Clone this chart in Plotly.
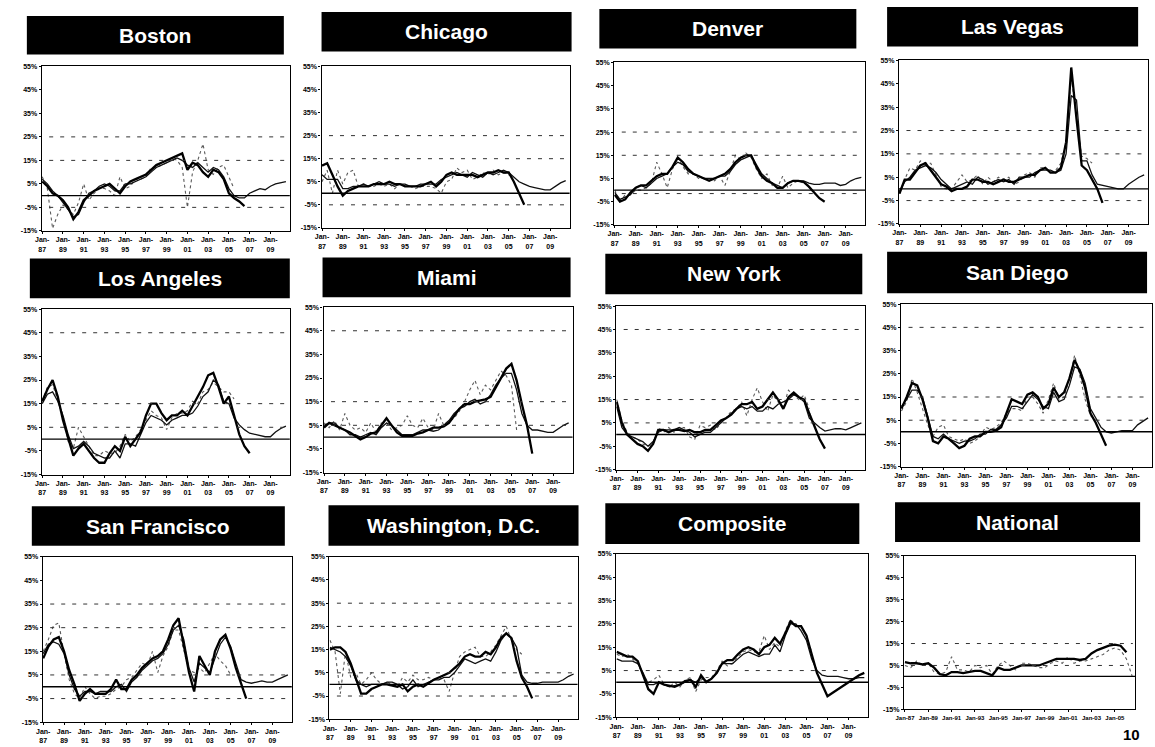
import plotly.graph_objects as go

# ---------------- data (year-over-year % change, semiannual points from Jan-87) ----------------
DATES = [f"{y}-{m:02d}-01" for y in range(1987, 2011) for m in (1, 7)]

CITIES = ["Boston", "Chicago", "Denver", "Las Vegas",
          "Los Angeles", "Miami", "New York", "San Diego",
          "San Francisco", "Washington, D.C.", "Composite", "National"]

# thick solid series
boston_a = [6, 4, 1, 0, -2, -5, -10, -7, -2, 0, 2, 3, 4, 5, 3, 1, 4, 6, 7, 8,
            9, 11, 13, 14, 15, 16, 17, 18, 11, 14, 13, 10, 8, 11, 10, 7, 1, -1, -2.5, -4.5]
chicago_a = [12, 13, 8, 3, -1, 1, 2, 3, 3, 3, 4, 4, 4, 5, 4, 4, 3, 3, 3, 3,
             4, 5, 3, 5, 8, 9, 8, 8, 8, 8, 7, 8, 9, 9, 10, 9, 9, 5, 0, -5]
denver_a = [-2, -5, -4, -1, 1, 2, 2, 4, 6, 7, 7, 10, 14, 12, 9, 7, 6, 5, 4, 5,
            6, 7, 9, 12, 14, 15, 15, 10, 6, 4, 3, 1, 1, 3, 4, 4, 3.5, 1.5, -1, -3.5, -5]
lasvegas_a = [-2, 4, 4, 7, 10, 11, 8, 5, 2, 1, -1, 0, 0, 1, 4, 4, 3, 3, 2, 3,
              4, 3, 3, 4, 5, 6, 6, 8, 9, 7, 7, 9, 20, 52, 30, 10, 8, 4, 0, -6]
losangeles_a = [16, 21, 25, 18, 8, 0, -7, -4, -2, -5, -8, -10, -10, -6, -3, -5, 1, -3, 0, 3,
                10, 15, 15, 11, 8, 10, 10, 12, 10, 14, 18, 22, 27, 28, 22, 15, 18, 10, 2, -3, -6]
miami_a = [4, 6, 5, 4, 3, 2, 0.5, -1, 0, 1.5, 2, 5, 8, 5, 2, 0.5, 0.5, 0.5, 1.5, 2,
           3, 4, 4, 4.5, 6, 9, 12, 14, 14, 15, 15.5, 16, 17, 21, 25, 29, 31, 24, 14, 5, -7]
newyork_a = [14, 5, 0, -2, -4, -5, -7, -4, 2, 2, 1, 2, 2, 1.5, 2, 1, 1, 2, 2, 4,
             6, 7, 8.5, 11, 13, 13, 14, 11, 12, 15, 18, 15, 11, 16, 18, 16, 15, 9, 3, -2, -6]
sandiego_a = [10, 15, 21, 20, 14, 6, -4, -5, -2, -3, -5, -7, -6, -3, -2, -2, 0, 0, 0.5, 2,
              8, 14, 13, 12, 16, 17, 15, 10, 12, 19, 15, 17, 23, 31, 26, 19, 8, 4, -1, -6]
sanfrancisco_a = [12, 17, 20, 21, 15, 7, 1, -6, -3, -1, -3, -3, -3, -1, 3, -1, -1, 3, 5, 8,
                  10, 12, 13, 15, 20, 26, 29, 18, 6, -2, 13, 9, 5, 15, 20, 22, 16, 8, 1, -5]
washington_a = [15, 16, 16, 14, 9, 3, -4, -4, -2, -1, 0, 0, -0.5, -1, 0, -3, -1, 0, -1, 0.5,
                2, 3, 4, 5, 7, 9, 12, 13, 12, 12, 14, 13, 16, 20, 22, 20, 10, 3, -1, -6]
composite_a = [13, 12, 11, 11, 9, 3, -3, -5, 0, -1, -1.5, -2, -1, 0.5, 1, -2, 3, 0, 1.5, 4,
               8, 9.5, 9.5, 12, 14, 15, 14, 12, 15, 16, 19, 16.5, 21, 26, 24, 24, 20, 12, 4, -1,
               -6, -4.5, -3, -1.5, 0, 1.5, 3, 4]
national_a = [6.5, 6, 6, 5.5, 6, 4, 1, 0.5, 2, 2, 1.5, 2, 2.5, 2.5, 1.5, 0.5, 4, 3, 3, 4,
              5, 5, 5, 5, 6, 7, 8, 8, 8, 8, 7.5, 8, 10.5, 12, 13, 14, 14.5, 14, 11]

# thin solid series (continues to 2010)
boston_b = [7, 5, 2, 0, -3, -6, -9, -8, -3, 1, 2, 4, 5, 4, 2, 2, 5, 5, 6, 7,
            8, 10, 12, 13, 14, 15, 16, 15, 13, 12, 14, 12, 10, 12, 11, 8, 3, 0, -1, -1,
            1, 2, 3, 2.5, 4, 5, 5.5, 6]
chicago_b = [8, 6, 6, 6, 2, 2, 3, 3, 4, 3, 4, 5, 4, 4, 3, 4, 4, 3, 3, 4,
             4, 4, 4, 6, 7, 8, 9, 8, 7, 9, 8, 7, 9, 8, 9, 10, 9, 7, 5, 4,
             3, 2.5, 2, 1.5, 1.5, 3, 4.5, 5.5]
denver_b = [-1, -4, -3, -2, 1, 2, 1, 3, 5, 6, 7, 10, 12, 11, 8, 7, 6, 5, 5, 5,
            6, 6, 8, 11, 13, 14, 15, 11, 7, 5, 3, 2, 1, 3, 4, 4, 4, 3, 2.5, 2.5,
            3, 3, 3, 2, 2.5, 4, 5, 5.5]
lasvegas_b = [-1, 3, 5, 8, 9, 10, 9, 7, 4, 2, 0, 1, 2, 3, 2, 5, 4, 2, 3, 4,
              3, 4, 2, 5, 5, 5, 7, 8, 8, 8, 7, 8, 15, 40, 38, 12, 12, 6, 2, 1.5,
              1, 0.5, 0, 0, 2, 3.5, 5, 6]
losangeles_b = [15, 19, 20, 16, 10, 2, -4, -3, -1, -3, -6, -7, -8, -8, -5, -8, -2, -2, -3, 2,
                7, 10, 9, 8, 6, 8, 9, 10, 10, 11, 14, 18, 20, 25, 23, 16, 15, 9, 6, 4,
                2.5, 2, 1.5, 1, 1, 3, 4.5, 5.5]
miami_b = [5, 6, 6, 4, 3, 1, 1, 0, 1, 2, 1, 4, 6, 5, 3, 1, 1, 1, 2, 3,
           3, 2.5, 3, 5, 7, 10, 12, 13, 15, 16, 14, 15, 18, 22, 25, 27, 27, 20, 10, 5,
           3, 3, 2.5, 2, 2, 3.5, 5, 6]
newyork_b = [12, 3, 0, -1, -2, -3, -5, -3, 1, 2, 2, 2, 3, 2, 1, -1, 0, 1, 1, 3,
             5, 7, 9, 11, 12, 11, 12, 10, 10, 12, 11, 13, 14, 15, 17, 16, 14, 7, 5, 3,
             1.5, 2, 2.5, 2.5, 2, 3, 4, 5]
sandiego_b = [11, 14, 18, 18, 15, 7, -2, -3, -1, -3, -4, -5, -4, -4, -3, -1, -1, 1, 1, 3,
              6, 11, 11, 10, 13, 16, 14, 11, 10, 17, 13, 14, 20, 28, 27, 21, 10, 6, 2, 0,
              -0.5, 0, 0.5, 0.5, 0.5, 3, 4.5, 6]
sanfrancisco_b = [14, 18, 19, 18, 14, 5, -1, -4, -2, -2, -3, -2, -2, -2, 0, 1, -2, 2, 4, 7,
                  9, 11, 12, 14, 18, 24, 26, 20, 8, 2, 10, 8, 6, 12, 18, 21, 17, 10, 3, 2,
                  1.5, 2, 2.5, 2, 2, 3, 4, 5]
washington_b = [16, 15, 14, 12, 8, 2, 0, -1, 0, 0, 0, 1, 1, 0, -2, -1, 2, -1, 0, 1,
                2, 2, 3, 3, 5, 8, 11, 10, 9, 10, 11, 10, 14, 19, 22, 20, 16, 4, 1, 0.5,
                0.5, 1, 1, 1, 1, 2, 3.5, 4.5]
composite_b = [10, 9, 9, 9, 8, 4, -1, -1, 0, -1, -2, -1.5, -1, 0, 1, 0, 2, 0.5, 1.5, 4,
               8, 8, 8, 10, 12, 13, 12, 11, 12, 12, 16, 13, 20, 25, 25, 22, 18, 10, 5, 3,
               2.5, 2.5, 2.5, 2, 1.5, 1.5, 2, 2]
national_b = []

# dotted series
boston_c = [8, 3, -14, -8, -4, -6, -8, -3, 5, -2, 1, 3, 3, 2, 0, 8, 3, 4, 7, 7,
            8, 12, 12, 13, 14, 16, 15, 12, -5, 10, 15, 22, 11, 9, 12, 13, 8, 3]
chicago_c = [5, 10, 0, 10, 4, 9, 10, 3, 4, 3, 3, 4, 3, 4, 2, 4, 3, 3, 2, 3,
             3, 3, 2, 0, 5, 6, 11, 9, 10, 6, 7, 9, 8, 10, 8, 9, 8, 7]
denver_c = [0, -5, -2, -2, 0, 0, 1, 3, 12, 7, 1, 9, 14, 10, 7, 7, 5, 5, 5, 4,
            6, 2, 8, 15, 13, 16, 14, 9, 5, 7, 2, 1, 6, 1, 3, 4, 3, 2]
lasvegas_c = [-2, 4, 9, 8, 12, 11, 11, 6, 1, 0, 0, 3, 6, 3, 4, 6, 2, 5, 3, 5,
              4, 5, 2, 3, 6, 7, 5, 9, 9, 7, 8, 11, 20, 48, 30, 14, 13, 11]
losangeles_c = [16, 22, 23, 17, 10, -1, -4, 5, 1, -3, -7, -7, -5, -6, -6, -3, 2, -1, 1, 4,
                8, 12, 10, 9, 4, 9, 11, 11, 12, 16, 15, 20, 21, 24, 22, 20, 20, 17]
miami_c = [6, 4, 7, 3, 10, 5, 3, 4, 2, 6, 2, 6, 6, 3, 4, 5, 9, 5, 4, 8,
           4, 3, 10, 5, 7, 8, 11, 15, 20, 24, 18, 22, 20, 24, 28, 26, 22, 3]
newyork_c = [15, 6, 1, -1, -2, -4, -5, -4, 3, 1, 3, 1, 3, 3, -1, -2, 4, 3, 4, 2,
             5, 7, 10, 11, 14, 8, 15, 20, 14, 10, 17, 14, 12, 19, 17, 15, 17, 11]
sandiego_c = [9, 13, 23, 17, 10, 3, -2, 2, 3, -2, -3, -4, -3, -5, -4, -2, 2, 1, 2, 4,
              8, 10, 10, 9, 15, 15, 12, 8, 14, 21, 14, 15, 23, 33, 24, 14, 7, 5]
sanfrancisco_c = [15, 20, 26, 27, 14, 3, -3, -5, 0, -3, -5, -4, -4, -3, -1, 0, 3, 4, 7, 10,
                  9, 15, 6, 13, 17, 24, 24, 15, 7, 6, 8, 6, 10, 14, 11, 9, 5, 5]
washington_c = [19, 14, -4, 14, 3, 5, 0, 2, 5, 2, 0, 1, 0, -1, 3, 1, 4, 2, 2, 3,
                2, 3, 2, -3, 5, 12, 14, 15, 16, 12, 12, 14, 17, 21, 25, 19, 15, 13]
composite_c = [12, 11, 12, 10, 8, 3, 0, 1, 3, -1, -2, 0, -2, 1, 2, -4, 1, 2, 2, 5,
               9, 7, 8, 11, 13, 14, 13, 13, 20, 14, 17, 15, 22, 27, 24, 24, 20, 13]
national_c = [5, 4, 7, 5, 6, 2, 1, 2, 9, 3, 3, 2, 5, 4, 5, 1, 5, 7, 5, 3,
              6, 6, 5, 4, 4, 6, 7, 6, 9, 6, 7, 7, 8, 9, 10, 12, 13, 12, 8, 0]

SERIES_A = [boston_a, chicago_a, denver_a, lasvegas_a, losangeles_a, miami_a,
            newyork_a, sandiego_a, sanfrancisco_a, washington_a, composite_a, national_a]
SERIES_B = [boston_b, chicago_b, denver_b, lasvegas_b, losangeles_b, miami_b,
            newyork_b, sandiego_b, sanfrancisco_b, washington_b, composite_b, national_b]
SERIES_C = [boston_c, chicago_c, denver_c, lasvegas_c, losangeles_c, miami_c,
            newyork_c, sandiego_c, sanfrancisco_c, washington_c, composite_c, national_c]

# dashed reference levels per panel
REF_LEVELS = [[25, 15, -5], [25, 15, -5], [25, 15, -1.5], [25, 15, -5],
              [45, 15, 5], [45, 15, 5], [45, 15, 5], [45, 15, 5],
              [35, 25, 5, -5], [35, 25, 5, -5], [5], [15, 5]]

Y_TICKS = [-15, -5, 5, 15, 25, 35, 45, 55]
Y_TICK_TEXT = ["-15%", "-5%", "5%", "15%", "25%", "35%", "45%", "55%"]
X_TICK_YEARS = list(range(1987, 2010, 2))
NAT_TICK_YEARS = list(range(1987, 2006, 2))

# ---------------- layout geometry (pixels in a 1155x747 page) ----------------
W, H = 1155, 747
PLOT_BOX = [(33, 63, 283, 229), (315, 63, 565, 226), (610, 59, 863, 223), (897, 57, 1148, 222),
            (33, 308, 283, 475), (317, 306, 568, 473), (612, 305, 863, 470), (899, 303, 1152, 467),
            (34, 558, 285, 725), (323, 558, 573, 722), (612, 555, 866, 720), (902, 557, 1135, 712)]
TITLE_BOX = [(18, 12, 277, 51), (315, 8, 567, 48), (595, 5, 854, 45), (885, 3, 1138, 43),
             (21, 257, 283, 297), (316, 256, 566, 296), (601, 252, 860, 293), (885, 250, 1147, 292),
             (23, 507, 278, 547), (322, 506, 574, 547), (601, 504, 857, 545), (893, 503, 1140, 543)]

FONT = "Liberation Sans, Arial, sans-serif"
tickfont = dict(family=FONT, size=7, color="black", weight="bold")
nat_tickfont = dict(family=FONT, size=6, color="black", weight="bold")

fig = go.Figure()
layout = dict(width=W, height=H, margin=dict(l=0, r=0, t=0, b=0),
              paper_bgcolor="white", plot_bgcolor="white", showlegend=False,
              shapes=[], annotations=[])

for i, name in enumerate(CITIES):
    n = i + 1
    sfx = "" if n == 1 else str(n)
    xa, ya = "x" + sfx, "y" + sfx
    l, t, r, b = PLOT_BOX[i]

    if SERIES_C[i]:
        fig.add_trace(go.Scatter(x=DATES[:len(SERIES_C[i])], y=SERIES_C[i], mode="lines",
                                 line=dict(color="#5a5a5a", width=1.1, dash="dot"),
                                 xaxis=xa, yaxis=ya, hoverinfo="skip"))
    if SERIES_B[i]:
        fig.add_trace(go.Scatter(x=DATES[:len(SERIES_B[i])], y=SERIES_B[i], mode="lines",
                                 line=dict(color="#111", width=1.3),
                                 xaxis=xa, yaxis=ya, hoverinfo="skip"))
    fig.add_trace(go.Scatter(x=DATES[:len(SERIES_A[i])], y=SERIES_A[i], mode="lines",
                             line=dict(color="black", width=2.3),
                             xaxis=xa, yaxis=ya, hoverinfo="skip"))

    if name == "National":
        xr = ["1986-12-01", "2006-10-01"]
        tv = [f"{y}-01-01" for y in NAT_TICK_YEARS]
        tt = [f"Jan-{y % 100:02d}" for y in NAT_TICK_YEARS]
        xfont = nat_tickfont
    else:
        xr = ["1986-12-15", "2010-11-15"]
        tv = [f"{y}-01-01" for y in X_TICK_YEARS]
        tt = [f"Jan-<br>{y % 100:02d}" for y in X_TICK_YEARS]
        xfont = tickfont

    layout["xaxis" + sfx] = dict(domain=[l / W, r / W], anchor=ya, type="date", range=xr,
                                 tickmode="array", tickvals=tv, ticktext=tt, tickangle=0,
                                 showline=True, mirror=True, linecolor="black", linewidth=1.3,
                                 showgrid=False, zeroline=False, ticks="outside", ticklen=2,
                                 tickcolor="black", tickfont=xfont)
    layout["yaxis" + sfx] = dict(domain=[1 - b / H, 1 - t / H], anchor=xa, range=[-15, 55],
                                 tickmode="array", tickvals=Y_TICKS, ticktext=Y_TICK_TEXT,
                                 showline=True, mirror=True, linecolor="black", linewidth=1.3,
                                 showgrid=False, zeroline=False, ticks="outside", ticklen=2,
                                 tickcolor="black", tickfont=tickfont)

    # dashed reference levels
    for lv in REF_LEVELS[i]:
        layout["shapes"].append(dict(type="line", xref=xa + " domain", yref=ya,
                                     x0=0.03, x1=0.99, y0=lv, y1=lv,
                                     line=dict(color="#333", width=1, dash="4px,7px")))
    # solid zero line
    layout["shapes"].append(dict(type="line", xref=xa + " domain", yref=ya,
                                 x0=0, x1=1, y0=0, y1=0,
                                 line=dict(color="black", width=1.4)))

    # black title bar
    tl, tt_, tr, tb = TITLE_BOX[i]
    layout["shapes"].append(dict(type="rect", xref="paper", yref="paper",
                                 x0=tl / W, x1=tr / W, y0=1 - tb / H, y1=1 - tt_ / H,
                                 fillcolor="black", line=dict(width=0)))
    layout["annotations"].append(dict(text=f"<b>{name}</b>", xref="paper", yref="paper",
                                      x=(tl + tr) / 2 / W, y=1 - (tt_ + tb) / 2 / H,
                                      xanchor="center", yanchor="middle", showarrow=False,
                                      font=dict(family=FONT, size=21, color="white")))

layout["annotations"].append(dict(text="<b>10</b>", xref="paper", yref="paper",
                                  x=1142 / W, y=1 - 737 / H, xanchor="right", yanchor="middle",
                                  showarrow=False,
                                  font=dict(family=FONT, size=15, color="black")))

fig.update_layout(**layout)
fig.write_html("out.html", config={"displayModeBar": False},
               post_script="document.body.style.margin='0';")
